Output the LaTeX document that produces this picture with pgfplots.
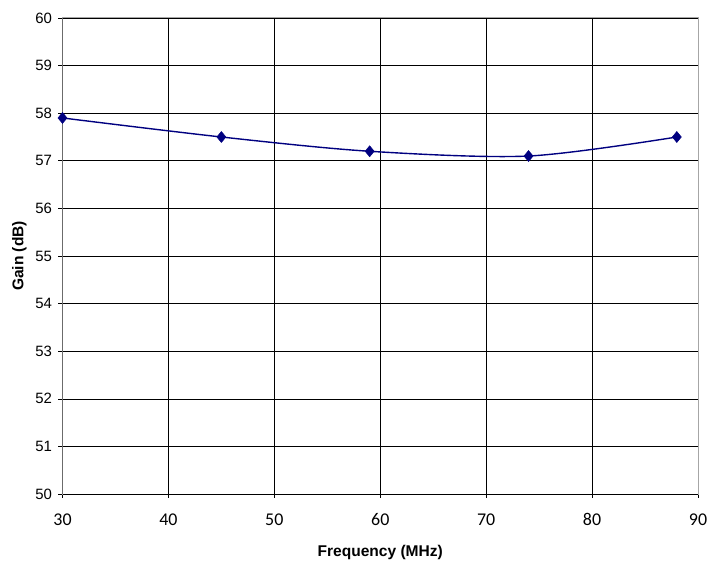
\documentclass[border=0pt]{standalone}
\usepackage{fontspec}
\setmainfont{Liberation Sans}
\newfontfamily\carlito{Carlito}
\usepackage{pgfplots}
\pgfplotsset{compat=1.18}
\definecolor{navyline}{RGB}{0,0,128}
\begin{document}
\begin{tikzpicture}
\useasboundingbox (-62.5bp,-67bp) rectangle (646.5bp,494bp);
\begin{axis}[
  at={(0,0)}, anchor=south west,
  scale only axis,
  width=635.5bp, height=476bp,
  xmin=30, xmax=90, ymin=50, ymax=60,
  xtick={30,40,...,90}, ytick={50,51,...,60},
  grid=major,
  major grid style={black, line width=0.6pt},
  axis line style={draw=gray!70, line width=1pt},
  tick align=outside,
  xtick pos=left, ytick pos=left,
  major tick length=4bp,
  tick style={black, line width=0.6pt},
  /pgf/number format/assume math mode=true,
  x tick label style={font=\carlito\fontsize{18}{20}\selectfont, yshift=-12bp},
  y tick label style={font=\fontsize{15}{17}\selectfont, xshift=-3bp},
  xlabel={\textbf{Frequency (MHz)}},
  ylabel={\textbf{Gain (dB)}},
  xlabel style={font=\fontsize{15.6}{17}\selectfont, yshift=-12bp},
  ylabel style={font=\fontsize{15.6}{17}\selectfont, yshift=2bp},
]
\addplot[navyline, line width=1.4pt, smooth, tension=0.5, mark=diamond*, mark size=5.5bp, mark options={fill=navyline, draw=navyline, line width=0.5pt, xscale=1.1}]
  coordinates {(30,57.9) (45,57.5) (59,57.2) (74,57.1) (88,57.5)};
\draw[black, line width=0.8pt] (axis cs:30,50) -- (axis cs:30,60);
\draw[black, line width=0.8pt] (axis cs:30,50) -- (axis cs:90,50);
\end{axis}
\end{tikzpicture}
\end{document}
